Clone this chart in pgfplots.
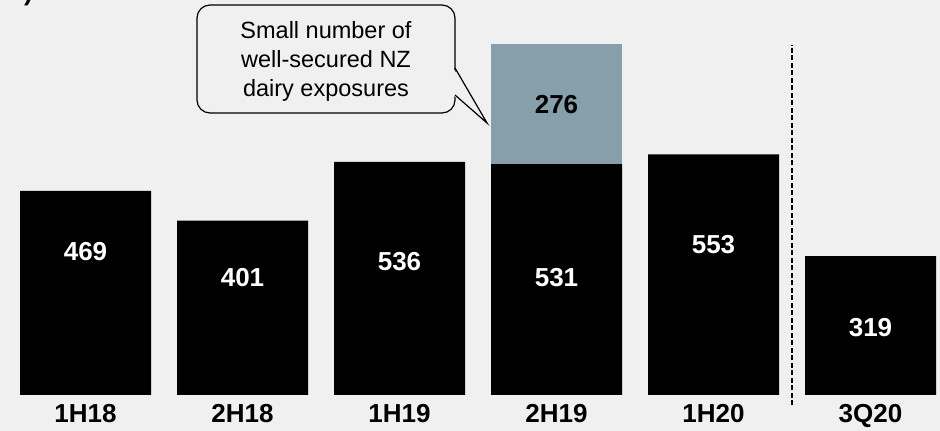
\documentclass[border=0pt]{standalone}
\usepackage{pgfplots}
\pgfplotsset{compat=1.18}
\usepackage{fontspec}
\setmainfont{Liberation Sans}
\definecolor{bg}{HTML}{F0F0F0}
\definecolor{dairy}{HTML}{879FAA}
\tikzset{vl/.style={font=\bfseries\fontsize{26}{28}\selectfont, text=white}}
\begin{document}
\begin{tikzpicture}[x=1pt,y=1pt]
\fill[bg] (0,0) rectangle (940,431);
\useasboundingbox (0,0) rectangle (940,431);
\node[anchor=base east, font=\bfseries\fontsize{26}{28}\selectfont, inner sep=0pt] at (33,430) {(\$m)};
\begin{axis}[
  at={(85.5pt,36pt)}, anchor=origin,
  x=157pt, y=0.435pt,
  xmin=-0.5, xmax=5.5, ymin=0, ymax=880,
  ybar stacked, bar width=131pt,
  axis line style={draw=none},
  major tick length=0pt,
  ytick=\empty,
  xtick=data, xticklabels={1H18,2H18,1H19,2H19,1H20,3Q20},
  xticklabel style={font=\bfseries\fontsize{26}{28}\selectfont, inner sep=0pt, yshift=-9pt},
  clip=false,
]
\addplot[fill=black, draw=none] coordinates {(0,469) (1,401) (2,536) (3,531) (4,553) (5,319)};
\addplot[fill=dairy, draw=none] coordinates {(0,0) (1,0) (2,0) (3,276) (4,0) (5,0)};
\coordinate (d0) at (axis cs:4.5,-23);
\coordinate (d1) at (axis cs:4.5,805);
\coordinate (l0) at (axis cs:0,329);
\coordinate (l1) at (axis cs:1,269);
\coordinate (l2) at (axis cs:2,306);
\coordinate (l3) at (axis cs:3,269);
\coordinate (l4) at (axis cs:4,345);
\coordinate (l5) at (axis cs:5,156);
\coordinate (l6) at (axis cs:3,667);
\end{axis}
\draw[line width=1.4pt, dash pattern=on 5pt off 2.5pt] (d0) -- (d1);
\node[vl] at (l0) {469};
\node[vl] at (l1) {401};
\node[vl] at (l2) {536};
\node[vl] at (l3) {531};
\node[vl] at (l4) {553};
\node[vl] at (l5) {319};
\node[vl, text=black] at (l6) {276};
% callout
\draw[line width=1.2pt, fill=bg, rounded corners=13pt] (197,318) rectangle (455,426);
\fill[bg] (453,363) -- (487,308) -- (453,336) -- cycle;
\draw[line width=1.2pt, line join=miter] (455,363) -- (487,308) -- (455,336);
\node[anchor=base, inner sep=0pt, font=\fontsize{23.5}{29}\selectfont] at (326,392) {Small number of};
\node[anchor=base, inner sep=0pt, font=\fontsize{23.5}{29}\selectfont] at (326,363) {well-secured NZ};
\node[anchor=base, inner sep=0pt, font=\fontsize{23.5}{29}\selectfont] at (326,334) {dairy exposures};
\end{tikzpicture}
\end{document}
